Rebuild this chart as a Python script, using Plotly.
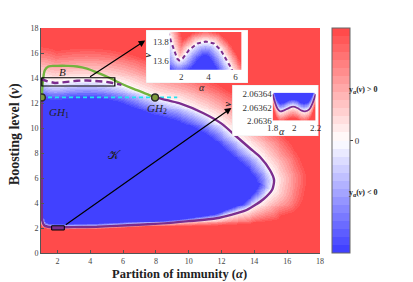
import numpy as np
import plotly.graph_objects as go

# ---------------- values ----------------
x_tick_vals = [2, 4, 6, 8, 10, 12, 14, 16, 18]
y_tick_vals = [0, 2, 4, 6, 8, 10, 12, 14, 16, 18]

# left edge of K (solid purple) from GH1 down
k_left_alpha = [1.05, 1.05]
k_left_nu = [12.45, 3.5]
# lower part of the boundary of K (solid purple): left edge -> nose
k_lower_alpha = [1.07, 1.2, 1.5, 2.0, 3.0, 4.39, 6.0, 8.45, 10.0, 11.7, 13.53, 14.55, 15.1, 15.2]
k_lower_nu = [2.6, 2.2, 2.08, 2.064, 2.07, 2.1, 2.2, 2.37, 2.55, 2.78, 3.44, 4.3, 5.1, 5.84]
# upper-right part of the boundary (solid purple): nose -> GH2
k_upper_alpha = [15.2, 14.95, 14.35, 13.8, 12.94, 12.0, 10.87, 9.5, 7.95]
k_upper_nu = [5.84, 6.64, 7.68, 8.3, 9.28, 10.35, 11.2, 11.95, 12.45]
# top of K between GH1 and GH2 (dashed purple part)
k_top_alpha = [1.0, 1.15, 1.2, 1.45, 1.7, 1.85, 2.1, 2.57, 3.2, 3.8, 4.4, 4.9, 5.3, 5.6, 5.9, 6.3, 7.0, 7.95]
k_top_nu = [13.9, 13.86, 13.82, 13.71, 13.62, 13.60, 13.62, 13.71, 13.78, 13.80, 13.78, 13.71, 13.62, 13.54, 13.45, 13.3, 12.95, 12.45]
dashed_max_alpha = 6.0

# green curve (boundary of B)
green_alpha = [1.05, 1.12, 1.24, 1.45, 2.0, 2.6, 3.2, 3.8, 4.4, 5.2, 5.8, 6.6, 7.2, 7.95]
green_nu = [12.45, 13.8, 14.64, 14.92, 14.97, 14.97, 14.92, 14.75, 14.45, 14.0, 13.6, 13.15, 12.85, 12.45]

# Generalised Hopf points and cyan level
gh_alpha = [1.05, 7.95]
gh_nu = [12.45, 12.45]
cyan_alpha = [1.0, 9.3]
cyan_nu = [12.45, 12.45]

# zoom boxes and arrows
box1_alpha = [1.05, 5.5]
box1_nu = [13.36, 14.02]
box2_alpha = [1.65, 2.42]
box2_nu = [1.84, 2.18]
arrow1_tail = (3.9, 14.02)
arrow1_head = (7.35, 17.0)
arrow2_tail = (2.42, 2.18)
arrow2_head = (12.6, 11.6)

# inset ranges
inset1_alpha_range = [1.15, 6.45]
inset1_nu_range = [13.5, 13.9]
inset1_x_ticks = [2, 4, 6]
inset1_y_ticks = [13.6, 13.8]
inset2_alpha_range = [1.8, 2.2]
inset2_nu_range = [2.0636, 2.063642]
inset2_x_ticks = [1.8, 2.0, 2.2]
inset2_x_text = ["1.8", "2", "2.2"]
inset2_y_ticks = [2.0636, 2.06362, 2.06364]
inset2_y_text = ["2.0636", "2.06362", "2.06364"]

# boundary inside inset 2 (bottom of K near alpha = 2)
b2_alpha = [1.8, 1.82, 1.845, 1.87, 1.9, 1.95, 1.99, 2.03, 2.07, 2.1, 2.14, 2.17, 2.19, 2.2]
b2_nu = [2.063640, 2.063628, 2.063618, 2.063614, 2.063615, 2.063619, 2.063621,
         2.063619, 2.063615, 2.063614, 2.063617, 2.063626, 2.063635, 2.063640]

# ---------------- colours ----------------
RED = (255, 68, 68)
BLUE = (58, 58, 255)
WHITE = (255, 255, 255)
PURPLE = "#7b2d8e"
GREEN = "#72b33e"
CYAN = "#22e3f0"
SERIF = "Liberation Serif"


def stepped_scale(nb):
    total = 2 * nb
    cs = []
    for k in range(total):
        c = (k + 0.5) / total
        if c < 0.5:
            f = c / 0.5
            col = [BLUE[i] * (1 - f) + WHITE[i] * f for i in range(3)]
        else:
            f = (c - 0.5) / 0.5
            col = [WHITE[i] * (1 - f) + RED[i] * f for i in range(3)]
        s = "rgb(%d,%d,%d)" % tuple(int(round(v)) for v in col)
        cs.append([k / total, s])
        cs.append([(k + 1) / total, s])
    return cs


cscale = stepped_scale(14)

# polygon of K (zero contour), extended past the left edge of the plot
poly_alpha = k_lower_alpha + k_upper_alpha[1:] + k_top_alpha[::-1][1:] + [-2.0, -2.0]
poly_nu = k_lower_nu + k_upper_nu[1:] + k_top_nu[::-1][1:] + [13.9, 2.6]


def k_field(alpha, nu, sx, sy, in_knots, out_knots):
    A, N = np.meshgrid(alpha, nu)
    X, Y = A * sx, N * sy
    PX = np.array(poly_alpha) * sx
    PY = np.array(poly_nu) * sy
    best = np.full(A.shape, np.inf)
    near_nu = np.zeros(A.shape)
    inside = np.zeros(A.shape, dtype=bool)
    m = len(PX)
    for i in range(m):
        j = (i + 1) % m
        x1, y1, x2, y2 = PX[i], PY[i], PX[j], PY[j]
        dx, dy = x2 - x1, y2 - y1
        L2 = dx * dx + dy * dy
        if L2 == 0:
            continue
        t = np.clip(((X - x1) * dx + (Y - y1) * dy) / L2, 0, 1)
        cx, cy = x1 + t * dx, y1 + t * dy
        dist = np.hypot(X - cx, Y - cy)
        upd = dist < best
        best = np.where(upd, dist, best)
        near_nu = np.where(upd, cy / sy, near_nu)
        if dy != 0:
            cond = (y1 > Y) != (y2 > Y)
            xi = x1 + (Y - y1) * dx / dy
            inside ^= cond & (X < xi)
    w_in = np.interp(near_nu, in_knots[0], in_knots[1])
    w_out = np.interp(near_nu, out_knots[0], out_knots[1])
    return np.clip(np.where(inside, -best / w_in, best / w_out), -1, 1)


# main field
ga = np.linspace(1, 18, 300)
gn = np.linspace(0, 18, 240)
Z = k_field(ga, gn, 16.41, 12.5,
            ([0, 2.5, 5.5, 18], [3, 3, 17, 19]),
            ([0, 2.3, 5.0, 18], [2.5, 2.5, 34, 34]))

# inset 1 field
ia = np.linspace(inset1_alpha_range[0], inset1_alpha_range[1], 160)
inu = np.linspace(inset1_nu_range[0], inset1_nu_range[1], 80)
Z1 = k_field(ia, inu, 13.6, 95.0, ([0, 18], [14, 14]), ([0, 18], [12, 12]))

# inset 2 field
ja = np.linspace(inset2_alpha_range[0], inset2_alpha_range[1], 120)
jn = np.linspace(inset2_nu_range[0], inset2_nu_range[1], 80)
A2, N2 = np.meshgrid(ja, jn)
B2 = np.interp(A2, b2_alpha, b2_nu)
d2 = (B2 - N2) * (28.0 / (inset2_nu_range[1] - inset2_nu_range[0]))
Z2 = np.clip(np.where(d2 > 0, d2 / 12.0, d2 / 8.0), -1, 1)

fig = go.Figure()

fig.add_trace(go.Heatmap(
    x=ga, y=gn, z=Z, zmin=-1, zmax=1, colorscale=cscale, zsmooth=False,
    xaxis="x", yaxis="y", hoverinfo="skip",
    colorbar=dict(x=1.043, xanchor="left", y=0.5, yanchor="middle", len=1, lenmode="fraction",
                  thickness=18, xpad=0, ypad=0, outlinewidth=1, outlinecolor="#666",
                  tickvals=[0], ticktext=["0"], ticks="outside", ticklen=3, tickcolor="#444",
                  tickfont=dict(family=SERIF, size=9, color="#333")),
))

# purple solid boundary
purple_a = k_left_alpha + k_lower_alpha + k_upper_alpha[1:]
purple_n = k_left_nu + k_lower_nu + k_upper_nu[1:]
fig.add_trace(go.Scatter(x=cyan_alpha, y=cyan_nu, mode="lines", xaxis="x", yaxis="y",
                         line=dict(color=CYAN, width=1.6, dash="4px,3px"), hoverinfo="skip"))
fig.add_trace(go.Scatter(x=green_alpha, y=green_nu, mode="lines", xaxis="x", yaxis="y",
                         line=dict(color=GREEN, width=2.4, shape="spline"), hoverinfo="skip"))
fig.add_trace(go.Scatter(x=purple_a, y=purple_n, mode="lines", xaxis="x", yaxis="y",
                         line=dict(color=PURPLE, width=2.4, shape="spline", smoothing=0.6), hoverinfo="skip"))
dash_a = [a for a in k_top_alpha if a <= dashed_max_alpha]
dash_n = k_top_nu[:len(dash_a)]
fig.add_trace(go.Scatter(x=dash_a, y=dash_n, mode="lines", xaxis="x", yaxis="y",
                         line=dict(color=PURPLE, width=2.4, dash="7px,4px"), hoverinfo="skip"))
fig.add_trace(go.Scatter(x=gh_alpha, y=gh_nu, mode="markers", xaxis="x", yaxis="y",
                         marker=dict(size=7, color="#7d9a3c", line=dict(color="#2b2b2b", width=1.5)),
                         hoverinfo="skip"))

# inset 1 white panel + heatmap
fig.add_trace(go.Scatter(x=[0, 1, 1, 0, 0], y=[0, 0, 1, 1, 0], fill="toself", fillcolor="white",
                         mode="lines", line=dict(color="#dddddd", width=0.6), xaxis="x2", yaxis="y2",
                         hoverinfo="skip"))
fig.add_trace(go.Heatmap(x=ia, y=inu, z=Z1, zmin=-1, zmax=1, colorscale=cscale, showscale=False,
                         xaxis="x3", yaxis="y3", hoverinfo="skip"))
fig.add_trace(go.Scatter(x=k_top_alpha, y=k_top_nu, mode="lines", xaxis="x3", yaxis="y3",
                         line=dict(color=PURPLE, width=2, dash="4px,3px"), hoverinfo="skip"))

# inset 2 white panel + heatmap
fig.add_trace(go.Scatter(x=[0, 1, 1, 0, 0], y=[0, 0, 1, 1, 0], fill="toself", fillcolor="white",
                         mode="lines", line=dict(color="#dddddd", width=0.6), xaxis="x4", yaxis="y4",
                         hoverinfo="skip"))
fig.add_trace(go.Heatmap(x=ja, y=jn, z=Z2, zmin=-1, zmax=1, colorscale=cscale, showscale=False,
                         xaxis="x5", yaxis="y5", hoverinfo="skip"))
fig.add_trace(go.Scatter(x=b2_alpha, y=b2_nu, mode="lines", xaxis="x5", yaxis="y5",
                         line=dict(color=PURPLE, width=1.8, shape="spline"), hoverinfo="skip"))

tickfont = dict(family=SERIF, size=8, color="#444")
itick = dict(family=SERIF, size=9, color="#333")
blank = dict(visible=False, range=[0, 1], fixedrange=True)

fig.update_layout(
    width=413, height=282,
    margin=dict(l=41, r=93, t=28, b=29),
    paper_bgcolor="white", plot_bgcolor="white",
    showlegend=False,
    xaxis=dict(domain=[0, 1], range=[1, 18], tickvals=x_tick_vals, ticks="inside", ticklen=3,
               tickcolor="#555", showline=True, linecolor="#555", linewidth=1, showgrid=False,
               zeroline=False, tickfont=tickfont, anchor="y"),
    yaxis=dict(domain=[0, 1], range=[0, 18], tickvals=y_tick_vals, ticks="inside", ticklen=3,
               tickcolor="#555", showline=True, linecolor="#555", linewidth=1, showgrid=False,
               zeroline=False, tickfont=tickfont, anchor="x"),
    xaxis2=dict(domain=[0.3763, 0.7419], anchor="y2", **blank),
    yaxis2=dict(domain=[0.7556, 0.9911], anchor="x2", **blank),
    xaxis3=dict(domain=[0.4613, 0.7194], range=inset1_alpha_range, anchor="y3", tickvals=inset1_x_ticks,
                ticks="", showgrid=False, zeroline=False, tickfont=itick, showline=False),
    yaxis3=dict(domain=[0.8133, 0.9822], range=inset1_nu_range, anchor="x3", tickvals=inset1_y_ticks,
                ticks="", showgrid=False, zeroline=False, tickfont=itick, showline=False),
    xaxis4=dict(domain=[0.6857, 0.9939], anchor="y4", **blank),
    yaxis4=dict(domain=[0.52, 0.7467], anchor="x4", **blank),
    xaxis5=dict(domain=[0.8305, 0.9846], range=inset2_alpha_range, anchor="y5", tickvals=inset2_x_ticks,
                ticktext=inset2_x_text, ticks="", showgrid=False, zeroline=False, tickfont=itick),
    yaxis5=dict(domain=[0.588, 0.7124], range=inset2_nu_range, anchor="x5", tickvals=inset2_y_ticks,
                ticktext=inset2_y_text, ticks="", showgrid=False, zeroline=False, tickfont=itick),
)

fig.add_shape(type="rect", xref="x", yref="y", x0=box1_alpha[0], x1=box1_alpha[1],
              y0=box1_nu[0], y1=box1_nu[1], line=dict(color="black", width=1.2), layer="above")
fig.add_shape(type="rect", xref="x", yref="y", x0=box2_alpha[0], x1=box2_alpha[1],
              y0=box2_nu[0], y1=box2_nu[1], line=dict(color="black", width=1),
              fillcolor=PURPLE, layer="above")

ann = []
for tail, head in [(arrow1_tail, arrow1_head), (arrow2_tail, arrow2_head)]:
    ann.append(dict(x=head[0], y=head[1], ax=tail[0], ay=tail[1], xref="x", yref="y",
                    axref="x", ayref="y", showarrow=True, arrowhead=2, arrowsize=1.1,
                    arrowwidth=1.2, arrowcolor="black", text=""))

lab = dict(family=SERIF, size=11, color="#222")
ann += [
    dict(x=2.34, y=14.48, xref="x", yref="y", text="<i>B</i>", showarrow=False, font=lab),
    dict(x=2.08, y=11.2, xref="x", yref="y", text="<i>GH</i><sub>1</sub>", showarrow=False, font=lab),
    dict(x=8.07, y=11.5, xref="x", yref="y", text="<i>GH</i><sub>2</sub>", showarrow=False, font=lab),
    dict(x=5.5, y=7.84, xref="x", yref="y", text="𝒦", showarrow=False,
         font=dict(family="DejaVu Serif", size=12, color="#222")),
    dict(x=0.496, y=-0.0955, xref="paper", yref="paper", text="<b>Partition of immunity (<i>α</i>)</b>",
         showarrow=False, font=dict(family=SERIF, size=12.5, color="#222"), yanchor="middle"),
    dict(x=-0.0932, y=0.528, xref="paper", yref="paper", text="<b>Boosting level (<i>ν</i>)</b>",
         showarrow=False, textangle=-90, font=dict(family=SERIF, size=14, color="#222"), xanchor="center"),
    dict(x=1.215, y=0.7556, xref="paper", yref="paper", text="<b>y<sub>α</sub>(<i>ν</i>) &gt; 0</b>",
         showarrow=False, font=dict(family=SERIF, size=8, color="#222")),
    dict(x=1.215, y=0.2356, xref="paper", yref="paper", text="<b>y<sub>α</sub>(<i>ν</i>) &lt; 0</b>",
         showarrow=False, font=dict(family=SERIF, size=8, color="#222")),
    dict(x=0.3835, y=0.9022, xref="paper", yref="paper", text="<b><i>ν</i></b>", textangle=-90,
         showarrow=False, font=dict(family=SERIF, size=10, color="#222")),
    dict(x=0.577, y=0.7689, xref="paper", yref="paper", text="<i>α</i>",
         showarrow=False, font=dict(family=SERIF, size=10, color="#222")),
    dict(x=0.6953, y=0.6622, xref="paper", yref="paper", text="<b><i>ν</i></b>", textangle=-90,
         showarrow=False, font=dict(family=SERIF, size=10, color="#222")),
    dict(x=0.8806, y=0.5391, xref="paper", yref="paper", text="<i>α</i>",
         showarrow=False, font=dict(family=SERIF, size=10, color="#222")),
]
fig.update_layout(annotations=ann)

fig.write_html("out.html", config={"displayModeBar": False},
               post_script="document.body.style.margin='0px';")
